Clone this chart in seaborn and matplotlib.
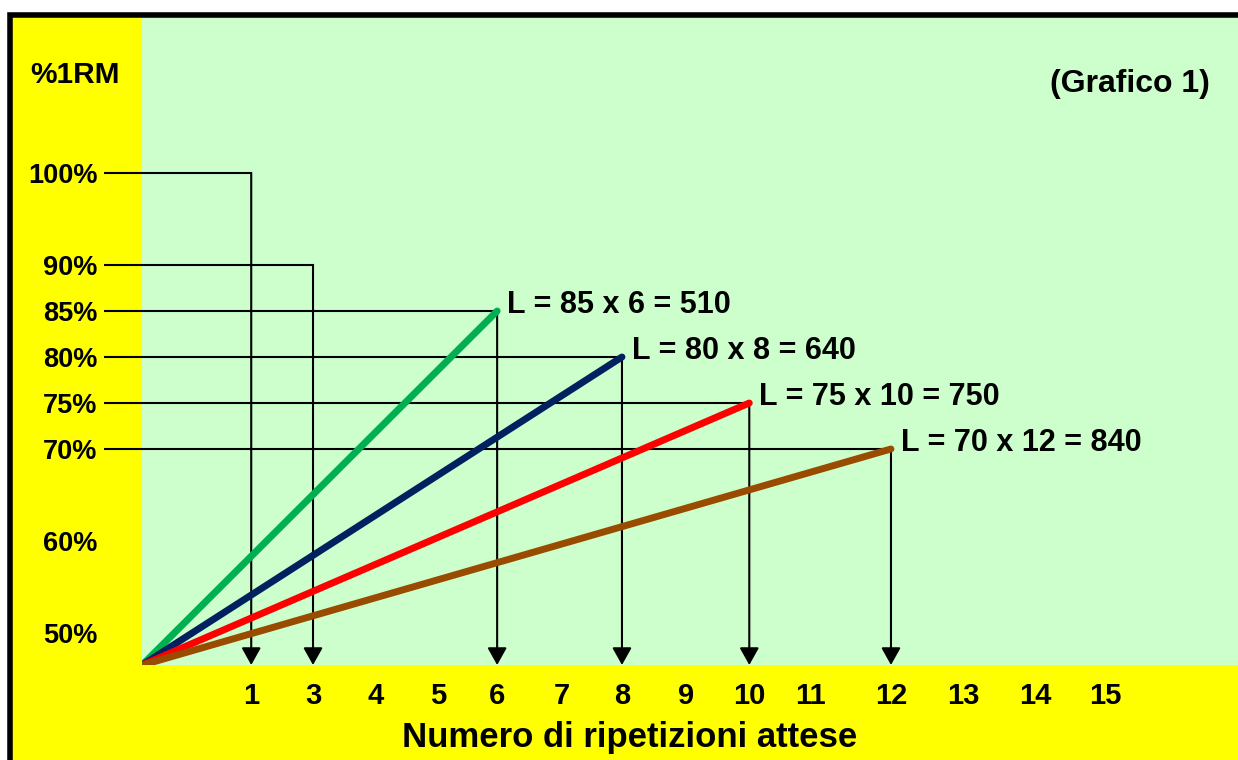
import numpy as np
import pandas as pd
import matplotlib.pyplot as plt
import seaborn as sns
from matplotlib.patches import Rectangle

sns.set_style("white")
plt.rcParams['font.family'] = ['Liberation Sans', 'DejaVu Sans']
plt.rcParams['font.weight'] = 'bold'
plt.rcParams['text.color'] = 'black'
plt.rcParams['xtick.color'] = 'black'
plt.rcParams['ytick.color'] = 'black'

'''Dati del grafico'''
serie = ['L85', 'L80', 'L75', 'L70']
ripetizioni = [6, 8, 10, 12]
percentuale = [85, 80, 75, 70]
colori = ['#00B050', '#002060', '#FF0000', '#994C00']
origine_rip = 0
origine_pct = 46.5

# linee guida: dal %1RM fino al numero di ripetizioni
guida_pct = [100, 90] + percentuale
guida_rip = [1, 3] + ripetizioni

y_ticks = [100, 90, 85, 80, 75, 70, 60, 50]
x_ticks = [1, 3, 4, 5, 6, 7, 8, 9, 10, 11, 12, 13, 14, 15]
# l'asse originale non e' uniforme: posizione di ogni tacca sull'asse
x_slot = [1.75, 2.74, 3.75, 4.74, 5.69, 6.73, 7.69, 8.72, 9.73, 10.71, 12.0, 13.16, 14.31, 15.43]

rows = []
for s, r, p in zip(serie, ripetizioni, percentuale):
    rows.append((s, origine_rip, origine_pct))
    rows.append((s, r, p))
df = pd.DataFrame(rows, columns=['serie', 'rip', 'pct'])

knot_x = [0] + x_ticks + [17]
knot_pos = [0] + x_slot + [17.56]


def fwd(x):
    return np.interp(x, knot_x, knot_pos)


def inv(x):
    return np.interp(x, knot_pos, knot_x)


'''Figura'''
fig = plt.figure(figsize=(12.38, 7.6), dpi=100, facecolor='white')
fig.patches.append(Rectangle((9.5 / 1238, -0.1), 1.2, 1 - 14.5 / 760 + 0.1,
                             transform=fig.transFigure, facecolor='#FFFF00',
                             edgecolor='black', linewidth=4, zorder=-1))
ax = fig.add_axes([0.1147, 0.125, 0.8853, 0.8513])
ax.set_facecolor('#CCFFCC')

sns.lineplot(data=df, x='rip', y='pct', hue='serie', palette=dict(zip(serie, colori)),
             estimator=None, sort=False, linewidth=5, legend=False, ax=ax, zorder=3)

ax.set_xscale('function', functions=(fwd, inv))
ax.set_xlim(0, 17)
ax.set_ylim(46.52, 116.85)
for sp in ax.spines.values():
    sp.set_visible(False)
ax.grid(False)
ax.set_xlabel('')
ax.set_ylabel('')

ax.set_xticks(x_ticks)
ax.set_xticklabels([str(v) for v in x_ticks], fontsize=21, fontweight='bold')
ax.set_yticks(y_ticks)
ax.set_yticklabels([f"{v}%" for v in y_ticks], fontsize=19.5, fontweight='bold')
ax.xaxis.set_minor_locator(plt.NullLocator())
ax.tick_params(axis='both', length=0)
ax.tick_params(axis='x', pad=12)
ax.tick_params(axis='y', pad=32)

for r, p in zip(guida_rip, guida_pct):
    ax.plot([-0.035, 0], [p, p], transform=ax.get_yaxis_transform(), color='black',
            lw=1.5, clip_on=False, solid_capstyle='butt', zorder=2)
    ax.plot([0, r], [p, p], color='black', lw=1.5, solid_capstyle='projecting', zorder=2)
    ax.annotate('', xy=(r, 46.52), xytext=(r, p), zorder=2,
                arrowprops=dict(arrowstyle='-|>,head_length=0.5,head_width=0.28',
                                color='black', lw=1.5, shrinkA=0, shrinkB=0,
                                mutation_scale=21))

for r, p in zip(ripetizioni, percentuale):
    ax.annotate(f"L = {p} x {r} = {p * r}", xy=(r, p), xytext=(7, 4),
                textcoords='offset points', ha='left', va='center',
                fontsize=22, fontweight='bold', zorder=4)

fig.text(30 / 1238, 1 - 75 / 760, '%1RM', fontsize=21.5, fontweight='bold',
         ha='left', va='center')
fig.text(1210 / 1238, 1 - 84 / 760, '(Grafico 1)', fontsize=23, fontweight='bold',
         ha='right', va='center')
fig.text(630 / 1238, 1 - 737 / 760, 'Numero di ripetizioni attese', fontsize=25,
         fontweight='bold', ha='center', va='center')

fig.savefig('out.png', dpi=100, facecolor='white')
